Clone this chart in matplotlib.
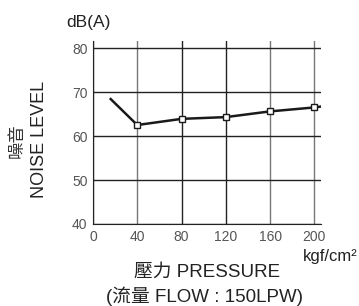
import matplotlib
matplotlib.use("Agg")
import matplotlib.pyplot as plt

plt.rcParams['font.family'] = ['Liberation Sans', 'Noto Sans CJK TC', 'DejaVu Sans']

# pressure (kgf/cm2) vs noise level dB(A)
pressure = [16, 40, 80, 120, 160, 200, 206]
noise = [68.4, 62.5, 63.9, 64.3, 65.6, 66.5, 66.7]
marked = [40, 80, 120, 160, 200]
marked_noise = [62.5, 63.9, 64.3, 65.6, 66.5]
xticks = [0, 40, 80, 120, 160, 200]
yticks = [40, 50, 60, 70, 80]

fig = plt.figure(figsize=(3.59, 3.06), dpi=100)
ax = fig.add_axes([93/359, 1-224/306, (321-93)/359, (224-41)/306])

ax.plot(pressure, noise, color="#1a1a1a", lw=1.8, zorder=3)
ax.plot(marked, marked_noise, "s", ms=4.5, mfc="white", mec="#1a1a1a", mew=1, zorder=4)

ax.set_xlim(0, 206)
ax.set_ylim(40, 81.6)
ax.set_xticks(xticks)
ax.set_yticks(yticks)
ax.tick_params(length=0, labelsize=10, labelcolor="#555555", pad=4)
ax.grid(True, lw=1, color="#222222")
for gl, c in zip(ax.get_xgridlines(), ["#222", "#777", "#222", "#222", "#777", "#777"]):
    gl.set_color(c)
ax.spines['top'].set_visible(False)
ax.spines['right'].set_visible(False)
ax.spines['left'].set_color("#222")
ax.spines['bottom'].set_color("#222")

fig.text(88/359, 1-22/306, "dB(A)", fontsize=12.5, ha="center", va="center", color="#222")
fig.text(17/359, 1-141/306, "噪音", fontsize=12.5, rotation=90, ha="center", va="center", color="#333")
fig.text(40/359, 1-139/306, "NOISE LEVEL", fontsize=13, rotation=90, ha="center", va="center", color="#222")
fig.text(330/359, 1-256/306, "kgf/cm²", fontsize=12, ha="center", va="center", color="#222")
fig.text(207/359, 1-272/306, "壓力 PRESSURE", fontsize=13.5, ha="center", va="center", color="#222")
fig.text(204/359, 1-296/306, "(流量 FLOW : 150LPW)", fontsize=13.5, ha="center", va="center", color="#222")

fig.savefig("out.png", dpi=100)
